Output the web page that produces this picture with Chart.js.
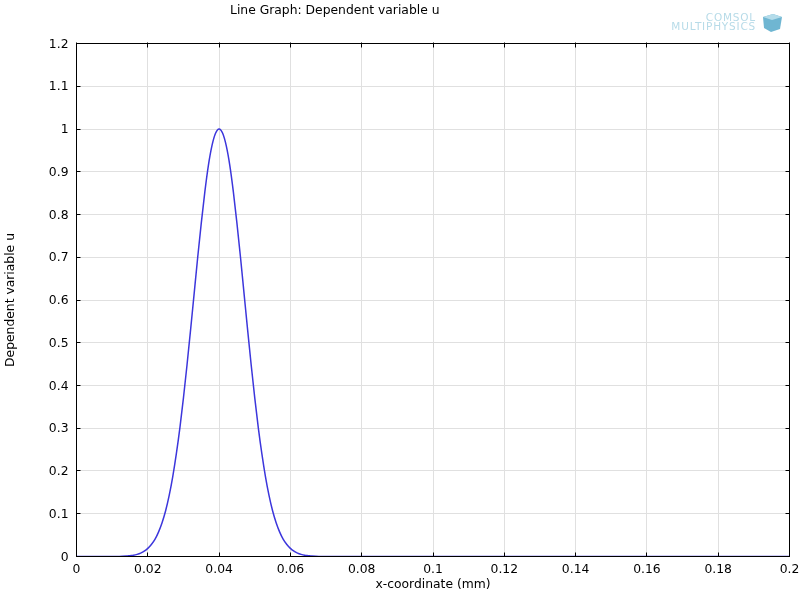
<!DOCTYPE html>
<html>
<head>
<meta charset="utf-8">
<style>html,body{margin:0;padding:0;background:#fff}#wrap{width:801px;height:601px}canvas{display:block}</style>
<script src="https://cdn.jsdelivr.net/npm/chart.js@4/dist/chart.umd.min.js"></script>
</head>
<body>
<div id="wrap"><canvas id="c" width="801" height="601"></canvas></div>
<script>
const xCoordinate = [0,0.012,0.014,0.015,0.016,0.017,0.018,0.019,0.02,0.021,0.022,0.023,0.024,0.025,0.026,0.027,0.028,0.029,0.03,0.031,0.032,0.033,0.034,0.035,0.036,0.037,0.038,0.039,0.04,0.041,0.042,0.043,0.044,0.045,0.046,0.047,0.048,0.049,0.05,0.051,0.052,0.053,0.054,0.055,0.056,0.057,0.058,0.059,0.06,0.061,0.062,0.063,0.064,0.065,0.066,0.068,0.2];
const dependentU = [0,0,0.001,0.002,0.003,0.005,0.008,0.0125,0.019,0.028,0.04,0.057,0.079,0.107,0.143,0.187,0.24,0.301,0.371,0.448,0.53,0.615,0.7,0.78,0.853,0.915,0.961,0.99,1,0.99,0.961,0.915,0.853,0.78,0.7,0.615,0.53,0.448,0.371,0.301,0.24,0.187,0.143,0.107,0.079,0.057,0.04,0.028,0.019,0.0125,0.008,0.005,0.003,0.002,0.001,0,0];
const xTicks = [0,0.02,0.04,0.06,0.08,0.1,0.12,0.14,0.16,0.18,0.2];
const yTicks = [0,0.1,0.2,0.3,0.4,0.5,0.6,0.7,0.8,0.9,1,1.1,1.2];
const titleText = "Line Graph: Dependent variable u";
const xLabel = "x-coordinate (mm)";
const yLabel = "Dependent variable u";
const logoLines = ["COMSOL","MULTIPHYSICS"];
const FONT = "'DejaVu Sans'";
const FS = 12.35;

const decor = {
  id:'decor',
  afterDatasetsDraw(chart){
    const {ctx,chartArea:a,scales:{x,y}} = chart;
    const l=Math.floor(a.left)+0.5,r=Math.floor(a.right)+0.5,t=Math.floor(a.top)+0.5,b=Math.floor(a.bottom)+0.5;
    ctx.save();
    ctx.strokeStyle='#000'; ctx.lineWidth=1;
    ctx.beginPath();
    const L=4;
    xTicks.forEach(v=>{const p=Math.floor(x.getPixelForValue(v))+0.5;
      ctx.moveTo(p,t-1);ctx.lineTo(p,t+L);
      ctx.moveTo(p,b);ctx.lineTo(p,b-L);});
    yTicks.forEach(v=>{const p=Math.floor(y.getPixelForValue(v))+0.5;
      ctx.moveTo(l,p);ctx.lineTo(l+L,p);
      ctx.moveTo(r,p);ctx.lineTo(r-L,p);});
    ctx.stroke();
    ctx.strokeRect(l,t,r-l,b-t);
    ctx.fillStyle='#000';
    ctx.font=FS+"px "+FONT;ctx.textAlign='left';ctx.textBaseline='middle';
    ctx.fillText(titleText,230,10.5);
    // logo
    ctx.textAlign='right';
    ctx.fillStyle='#b7dbe8';
    ctx.font="10.5px "+FONT;
    ctx.letterSpacing='0.8px';
    ctx.fillText(logoLines[0],756,18);
    ctx.letterSpacing='0.8px';
    ctx.fillText(logoLines[1],756,27.5);
    ctx.letterSpacing='0px';
    ctx.fillStyle='#6fb6d2';
    ctx.beginPath();ctx.moveTo(763,17);ctx.lineTo(773,14);ctx.lineTo(782,17);ctx.lineTo(780,29);ctx.lineTo(771,32);ctx.lineTo(764,28);ctx.closePath();ctx.fill();
    ctx.fillStyle='#b4dcea';
    ctx.beginPath();ctx.moveTo(763,17);ctx.lineTo(773,14);ctx.lineTo(782,17);ctx.lineTo(772,20);ctx.closePath();ctx.fill();
    ctx.restore();
  }
};

new Chart(document.getElementById('c'),{
  type:'line',
  data:{datasets:[{
    data:xCoordinate.map((v,i)=>({x:v,y:dependentU[i]})),
    borderColor:'#3c36dc',borderWidth:1.5,pointRadius:0,cubicInterpolationMode:'monotone',fill:false
  }]},
  options:{
    responsive:false,animation:false,devicePixelRatio:1,
    layout:{padding:{top:43.5,right:11.5,bottom:0,left:0}},
    plugins:{legend:{display:false},title:{display:false},tooltip:{enabled:false}},
    scales:{
      x:{type:'linear',min:0,max:0.2,
        afterBuildTicks(s){s.ticks=xTicks.map(v=>({value:v}));},
        afterFit(s){s.height=44.5;s.paddingLeft=0;s.paddingRight=0;},
        grid:{color:'#e0e0e0',lineWidth:1,drawTicks:false,tickLength:0},
        border:{display:false},
        ticks:{color:'#000',font:{family:FONT,size:FS},padding:6,maxRotation:0,autoSkip:false,callback:v=>String(v)},
        title:{display:true,text:xLabel,color:'#000',font:{family:FONT,size:FS},padding:{top:3,bottom:9}}
      },
      y:{type:'linear',min:0,max:1.2,
        afterBuildTicks(s){s.ticks=yTicks.map(v=>({value:v}));},
        afterFit(s){s.width=76.5;s.paddingTop=0;s.paddingBottom=0;},
        grid:{color:'#e0e0e0',lineWidth:1,drawTicks:false,tickLength:0},
        border:{display:false},
        ticks:{color:'#000',font:{family:FONT,size:FS},padding:8,labelOffset:1,autoSkip:false,callback:v=>String(v)},
        title:{display:true,text:yLabel,color:'#000',font:{family:FONT,size:FS},padding:{top:3,bottom:0}}
      }
    }
  },
  plugins:[decor]
});
</script>
</body>
</html>
